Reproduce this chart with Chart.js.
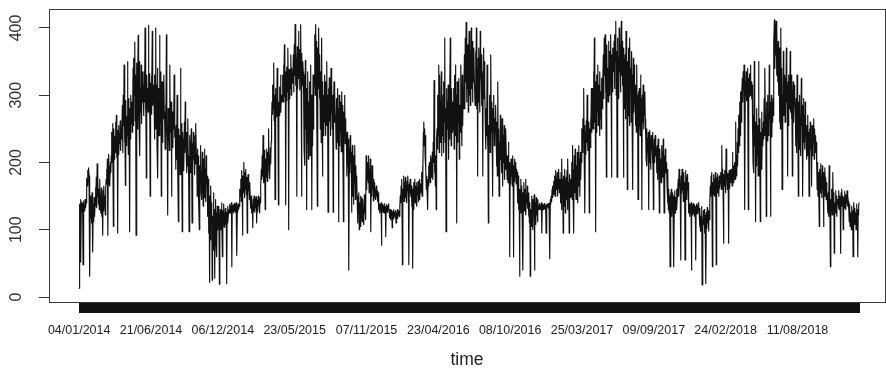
<!DOCTYPE html>
<html>
<head>
<meta charset="utf-8">
<script src="https://cdn.jsdelivr.net/npm/chart.js@4.4.1/dist/chart.umd.min.js"></script>
<style>
  html, body { margin: 0; padding: 0; background: #fff; overflow: hidden; }
  canvas { display: block; }
</style>
</head>
<body>
<canvas id="chart" width="886" height="371"></canvas>
<script>
// Daily observations from 04/01/2014 to 02/01/2019; every 168th day carries a date label.
const tickLabels = ['04/01/2014', '21/06/2014', '06/12/2014', '23/05/2015', '07/11/2015',
  '23/04/2016', '08/10/2016', '25/03/2017', '09/09/2017', '24/02/2018', '11/08/2018'];
const tickEvery = 168;
const yTicks = [0, 100, 200, 300, 400];

// Daily values, 25 consecutive days per line.
const stretch1 = [
  13,138,130,145,52,134,141,127,139,48,143,131,137,128,145,133,140,150,176,165,188,171,192,180,168,
  31,150,118,142,110,155,125,67,138,112,148,120,135,162,140,178,133,198,150,172,138,160,130,175,145,
  150,125,162,120,145,92,158,128,165,135,150,122,160,175,190,168,205,92,182,212,170,195,165,200,185,
  210,245,200,258,225,105,250,205,238,215,260,222,270,208,248,95,232,255,212,242,228,262,218,250,235,
  240,285,215,300,255,345,230,278,166,292,225,268,240,350,260,212,295,248,97,280,235,300,258,290,245,
  270,340,255,355,300,379,262,330,92,348,285,250,325,389,295,260,350,210,310,275,345,258,335,290,320,
  300,270,335,290,400,278,320,177,330,285,310,275,404,295,332,280,150,318,272,328,300,395,285,315,290,
  290,235,330,250,400,270,315,225,340,177,280,310,240,389,300,260,335,150,285,320,230,305,265,330,275,
  260,220,285,240,390,255,225,122,280,232,270,218,345,262,245,290,150,235,275,222,268,250,330,238,260,
  235,190,255,205,300,228,185,112,250,200,240,182,340,220,258,195,97,245,210,235,188,260,215,290,225
];
const stretch2 = [
  220,185,245,195,265,210,180,97,240,200,232,185,250,215,110,228,190,245,205,222,182,240,198,258,212,
  200,150,220,165,210,140,100,195,170,225,155,185,145,215,175,135,205,160,220,148,190,142,210,168,180,
  160,120,175,95,150,22,130,85,165,110,140,25,120,90,155,70,130,28,110,145,80,125,60,135,100,
  120,105,135,19,115,130,100,125,140,110,60,128,112,138,104,122,118,132,108,126,20,115,135,110,124,
  130,126,138,125,135,129,140,45,133,127,137,125,132,139,128,134,126,140,130,62,136,127,138,131,135,
  145,160,150,175,142,188,165,92,180,155,200,170,148,185,160,190,152,178,95,168,182,158,175,145,170,
  148,132,150,125,140,135,103,145,128,150,138,126,146,133,149,110,130,144,127,150,136,142,125,148,140,
  165,190,175,210,180,240,195,170,218,185,130,205,178,220,192,172,215,200,250,188,210,176,222,198,230,
  265,290,272,315,280,348,262,300,145,310,275,295,268,340,285,305,137,290,270,312,282,330,275,300,290,
  300,330,290,345,310,375,298,335,137,320,292,342,305,370,315,100,338,295,325,310,360,300,340,318,330
];
const stretch3 = [
  320,360,305,375,330,405,315,365,340,150,372,310,355,395,325,368,308,345,405,330,150,362,315,350,335,
  300,220,330,196,352,250,310,130,280,230,335,205,290,260,320,210,345,240,300,130,275,225,330,250,310,
  320,390,300,405,340,380,290,135,370,310,400,330,295,360,250,335,230,385,270,180,320,240,300,260,330,
  280,240,320,255,350,270,300,126,310,245,326,262,290,240,340,275,315,250,300,126,285,320,260,305,270,
  260,220,295,230,310,250,280,112,300,225,270,245,290,216,305,255,285,230,112,275,240,300,228,265,250,
  230,180,245,195,235,168,40,220,185,240,200,215,126,190,225,150,210,138,200,170,225,145,195,160,180,
  150,110,145,125,155,100,140,118,150,105,135,148,112,145,120,130,108,152,125,140,115,210,160,195,175,
  200,170,210,155,190,165,205,97,180,150,195,160,185,143,175,155,170,148,160,145,165,150,158,142,155,
  140,130,138,125,135,128,140,77,132,126,138,130,136,125,139,127,134,90,131,137,126,135,129,138,132,
  128,118,130,115,125,120,129,103,122,127,116,130,121,126,118,128,110,124,119,130,117,125,122,128,120
];
const stretch4 = [
  135,150,140,165,145,175,48,160,150,180,142,170,155,178,148,165,140,172,158,180,150,48,168,155,175,
  170,150,165,135,160,43,145,170,130,155,175,140,165,148,170,135,160,152,172,142,158,175,145,168,155,
  160,185,150,195,170,245,260,225,250,210,240,190,160,180,150,130,175,195,165,200,185,170,210,178,205,
  190,215,175,230,200,322,185,220,165,210,130,235,250,220,300,240,345,215,330,260,290,230,335,210,270,
  240,300,215,320,260,385,230,280,97,310,220,290,250,315,205,275,235,300,385,260,225,310,245,290,270,
  250,310,220,330,275,345,240,300,110,320,230,290,260,325,205,285,245,315,345,270,225,330,255,300,280,
  300,360,280,385,320,408,290,350,310,375,275,340,395,300,365,285,345,400,310,380,290,355,320,370,330,
  330,285,365,300,400,280,340,180,355,290,370,310,275,395,325,345,285,360,300,180,335,370,295,350,310,
  250,220,280,240,345,225,260,110,255,235,300,215,270,360,245,290,230,150,280,250,300,225,265,245,285,
  240,195,260,180,320,220,250,150,230,175,270,205,245,185,265,215,165,240,200,255,175,230,190,250,210
];
const stretch5 = [
  195,175,210,170,230,185,200,60,190,168,205,180,198,165,210,182,60,195,172,205,178,200,168,190,185,
  170,140,180,130,160,31,150,125,175,135,165,120,155,40,145,170,128,160,138,175,122,150,140,165,132,
  150,120,155,110,140,31,130,105,150,115,145,100,135,125,152,40,118,140,108,148,122,138,112,145,130,
  135,131,139,130,136,133,140,95,132,138,130,137,134,139,131,136,133,95,138,130,137,134,139,132,136,
  140,57,145,138,150,142,160,148,165,152,172,158,180,150,188,165,175,160,185,150,178,162,190,155,175,
  170,140,185,130,205,150,175,95,180,135,165,190,125,160,178,145,188,130,205,155,170,95,182,148,165,
  175,150,200,145,225,165,190,95,210,155,220,170,145,195,160,215,140,185,225,165,205,150,215,175,200,
  225,250,215,265,235,310,220,255,125,245,212,262,230,300,240,218,260,235,125,250,222,265,240,310,245,
  270,310,250,335,285,385,260,320,97,300,245,330,275,345,255,315,290,240,335,265,305,250,325,280,310,
  320,360,295,385,330,390,305,350,178,375,300,340,290,380,315,365,300,345,390,320,178,360,305,370,335
];
const stretch6 = [
  340,380,310,390,350,410,300,365,178,385,320,355,295,400,335,375,305,360,410,330,380,315,350,178,370,
  330,280,360,265,395,300,345,160,350,270,370,290,255,385,310,340,260,365,280,330,160,355,275,345,300,
  290,255,315,245,345,270,300,145,305,250,310,265,240,330,280,295,130,300,260,315,250,290,270,305,265,
  240,205,250,195,235,215,245,130,225,200,248,210,190,240,220,232,198,245,130,215,235,200,240,210,225,
  215,185,225,175,235,200,210,125,220,180,205,170,225,190,215,178,235,195,125,210,172,220,185,200,190,
  165,140,190,130,160,125,150,45,155,135,160,120,145,155,128,150,45,140,158,125,148,135,160,130,150,
  160,175,150,190,165,185,145,55,180,155,190,160,175,142,185,150,170,55,188,158,178,145,182,160,170,
  140,125,138,120,135,130,140,40,128,136,122,139,131,125,137,120,134,55,129,138,124,136,127,140,130,
  125,105,132,98,120,110,135,18,115,100,128,108,130,95,122,112,20,126,102,133,110,118,98,128,115,
  140,165,150,180,158,185,45,170,152,182,160,175,150,185,165,48,178,155,183,160,172,150,180,162,175
];
const stretch7 = [
  170,185,160,225,175,190,158,80,182,165,188,170,155,220,178,186,160,184,172,80,188,162,180,170,190,
  175,190,165,215,180,195,170,185,200,175,260,190,210,180,230,195,250,215,270,225,290,240,305,260,300,
  300,325,290,335,310,345,295,130,320,300,335,292,315,340,305,130,325,298,332,310,345,300,320,295,315,
  250,200,270,185,350,225,260,112,240,195,280,210,255,180,350,230,265,200,112,245,215,275,190,250,225,
  260,235,295,240,340,270,250,120,290,232,300,255,275,240,345,265,290,120,250,300,238,285,260,295,270,
  380,412,340,405,360,410,330,395,350,320,380,300,360,260,370,250,400,280,340,160,300,245,365,270,330,
  300,260,325,270,370,290,315,180,320,255,330,280,300,365,275,310,265,330,180,295,320,260,315,285,300,
  270,225,295,215,330,250,280,150,290,220,300,240,265,210,325,255,285,150,230,295,245,270,220,290,250,
  240,205,255,210,270,225,245,150,250,200,260,220,235,165,255,210,245,230,265,205,250,225,240,215,230,
  195,160,200,150,185,170,105,190,155,198,165,180,148,195,160,175,105,185,150,192,158,178,145,170,160
];
const stretch8 = [
  140,125,155,120,195,135,150,45,145,128,160,122,150,185,130,155,65,140,125,158,132,150,120,145,138,
  145,132,158,130,150,138,65,155,135,160,140,150,100,148,132,157,138,152,130,145,140,158,135,150,142,
  130,112,138,105,125,118,100,135,110,128,60,120,140,108,132,115,125,100,138,110,130,60,122,135,140
];

const values = [].concat(stretch1, stretch2, stretch3, stretch4,
                         stretch5, stretch6, stretch7, stretch8);
const points = values.map((v, i) => ({ x: i, y: v }));

const FONT = '"Liberation Sans", Arial, Helvetica, sans-serif';

// White page and the framing box around the plot region.
const framePlugin = {
  id: 'frame',
  beforeDraw(chart) {
    const c = chart.ctx;
    c.save();
    c.fillStyle = '#fff';
    c.fillRect(0, 0, chart.width, chart.height);
    c.restore();
  },
  afterDraw(chart) {
    const a = chart.chartArea;
    const c = chart.ctx;
    c.save();
    c.strokeStyle = '#3a3a3a';
    c.lineWidth = 1;
    c.strokeRect(a.left + 0.5, a.top + 0.5, a.right - a.left, a.bottom - a.top);
    c.restore();
  }
};

new Chart(document.getElementById('chart'), {
  type: 'line',
  data: {
    datasets: [{
      data: points,
      borderColor: '#111',
      borderWidth: 1.15,
      borderJoinStyle: 'round',
      borderCapStyle: 'round',
      pointRadius: 0,
      tension: 0,
      fill: false
    }]
  },
  options: {
    responsive: false,
    animation: false,
    devicePixelRatio: 1,
    events: [],
    layout: { padding: { top: 9, right: 1, left: 0, bottom: 0 } },
    plugins: { legend: { display: false }, tooltip: { enabled: false } },
    scales: {
      x: {
        type: 'linear',
        min: -70.6,
        max: 1884.7,
        afterBuildTicks(s) { s.ticks = values.map((_, i) => ({ value: i })); },
        afterFit(s) { s.height = 69; s.paddingLeft = 0; s.paddingRight = 0; },
        border: { display: false },
        grid: { drawOnChartArea: false, drawTicks: true, tickLength: 11, color: '#111', lineWidth: 1 },
        ticks: {
          autoSkip: false, maxRotation: 0, minRotation: 0, padding: 10,
          color: '#222', font: { family: FONT, size: 12.5 },
          callback: (v) => (v % tickEvery === 0 && tickLabels[v / tickEvery]) ? tickLabels[v / tickEvery] : ''
        },
        title: { display: true, text: 'time', color: '#222', font: { family: FONT, size: 17.5 }, padding: { top: 0, bottom: 0 } }
      },
      y: {
        min: -7.43,
        max: 428.25,
        afterBuildTicks(s) { s.ticks = yTicks.map(v => ({ value: v })); },
        afterFit(s) { s.width = 49; s.paddingTop = 0; s.paddingBottom = 0; },
        border: { display: false },
        grid: { drawOnChartArea: false, drawTicks: true, tickLength: 10, color: '#333', lineWidth: 1 },
        ticks: {
          minRotation: 90, maxRotation: 90, crossAlign: 'center', padding: 9,
          color: '#333', font: { family: FONT, size: 16 }
        }
      }
    }
  },
  plugins: [framePlugin]
});
</script>
</body>
</html>
